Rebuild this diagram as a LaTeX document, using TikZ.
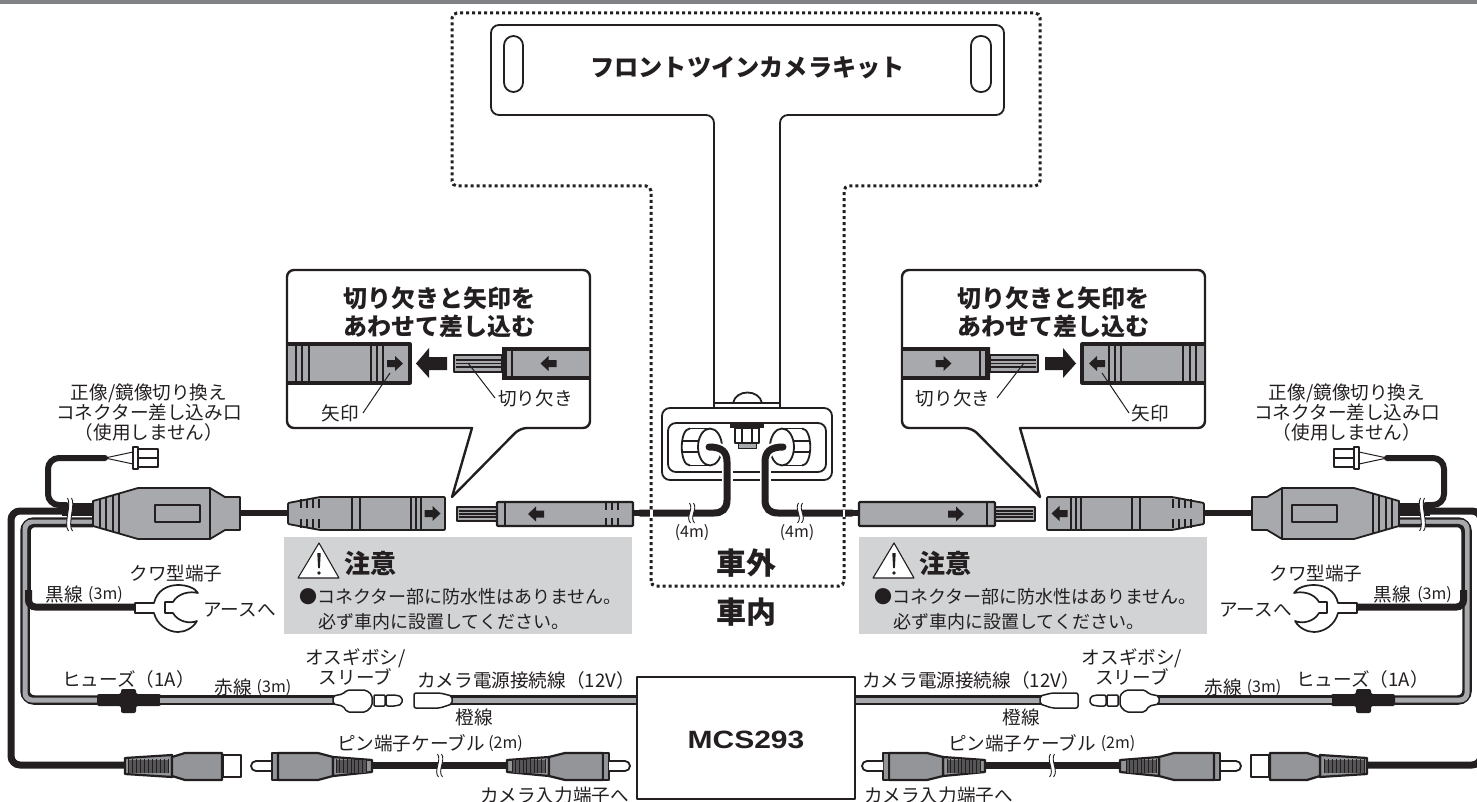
\documentclass[tikz,border=0pt]{standalone}
\usepackage{graphicx}
\usepackage{fontspec}
\setmainfont[BoldFont={Noto Sans CJK JP Black}]{Noto Sans CJK JP}
\newfontfamily\latinb{Liberation Sans}
\definecolor{plug}{HTML}{A7A9AC}
\definecolor{rcag}{HTML}{939598}
\definecolor{bar}{HTML}{808285}
\definecolor{note}{HTML}{D1D3D4}
\definecolor{ink}{HTML}{231F20}
\tikzset{
  ln/.style={draw=ink,line width=1.8pt,line join=round},
  body/.style={ln,fill=plug},
  rca/.style={draw=ink,line width=2.2pt,line join=round,fill=rcag},
  wht/.style={ln,fill=white},
  thk/.style={draw=ink,line width=7pt,rounded corners=9pt},
  lab/.style={inner sep=0pt,text=ink,align=center,font=\fontsize{18.6}{20}\selectfont},
  small/.style={inner sep=0pt,text=ink,font=\fontsize{16}{16}\selectfont},
  head/.style={inner sep=0pt,text=ink,align=center,font=\fontsize{24}{28}\selectfont\bfseries},
  dots/.style={draw=ink,line width=3pt,dash pattern=on 3pt off 3pt,rounded corners=5pt},
}
\newcommand\arr[2]{\fill[ink] (#1-8,#2-3.5) -- (#1,#2-3.5) -- (#1,#2-7.5) -- (#1+8,#2) -- (#1,#2+7.5) -- (#1,#2+3.5) -- (#1-8,#2+3.5) -- cycle;}
\newcommand\arrl[2]{\fill[ink] (#1+8,#2-3.5) -- (#1,#2-3.5) -- (#1,#2-7.5) -- (#1-8,#2) -- (#1,#2+7.5) -- (#1,#2+3.5) -- (#1+8,#2+3.5) -- cycle;}
\newcommand\wave[3]{%
  \fill[white] (#1-2.5,#2) .. controls (#1+2,#2+6) and (#1-7,#3-6) .. (#1-1.5,#3) -- (#1+2.5,#3) .. controls (#1-3,#3-6) and (#1+6,#2+6) .. (#1+1.5,#2) -- cycle;
  \draw[ink,line width=.9pt] (#1-2.5,#2) .. controls (#1+2,#2+6) and (#1-7,#3-6) .. (#1-1.5,#3);
  \draw[ink,line width=.9pt] (#1+1.5,#2) .. controls (#1+6,#2+6) and (#1-3,#3-6) .. (#1+2.5,#3);}
\newcommand\graywire[1]{\draw[draw=ink,line width=9.5pt,rounded corners=9pt] #1; \draw[draw=plug,line width=5pt,rounded corners=7pt] #1;}
\newcommand\vents[3]{%
  \fill[ink!55!rcag] (#1,759.5) rectangle (#2,772.5);
  \foreach \vx in {0,...,#3}{\draw[ink,line width=1pt] ({#1+(#2-#1)*\vx/#3},759) -- ({#1+(#2-#1)*\vx/#3},773);}}
\newcommand\halfside{%
  % wires in the bundle
  \draw[thk] (93,511) -- (11,511) -- (11,765) -- (126,765);
  \graywire{(93,522) -- (25,522) -- (25,700) -- (97,700)}
  \draw[ink,line width=3.5pt,rounded corners=6pt] (93,525.5) -- (29,525.5) -- (29,600);
  \draw[draw=ink,line width=7pt,rounded corners=7pt] (28.5,590) -- (28.5,607) -- (136,607);
  \draw[ink,line width=6pt,rounded corners=11pt,line cap=round] (66,505) -- (48,505) -- (48,458) -- (105,458);
  \fill[ink] (62,503) rectangle (93,516);
  \wave{70}{498}{531}
  % switch connector
  \draw[ink,line width=1pt] (105,458) -- (133,452) (105,458) -- (133,464);
  \path[wht] (133,447) -- (138,447) -- (138,449) -- (158,449) -- (158,467) -- (138,467) -- (138,469) -- (133,469) -- cycle;
  \draw[ln] (138,458) -- (158,458) (138,449) -- (138,467);
  % breakout body
  \path[body] (93,501) -- (138,488) -- (210,488) -- (225,497) -- (240,497) -- (240,530) -- (225,530) -- (210,539) -- (138,539) -- (93,526) -- cycle;
  \draw[ink,line width=2.2pt] (100,499) -- (100,528) (106,497) -- (106,530) (113,495) -- (113,532) (119,493) -- (119,534);
  \path[ln,fill=plug] (155,505) rectangle (200,522);
  \draw[ln] (210,488) -- (210,539);
  % cable to plug
  \draw[ink,line width=6pt] (240,513) -- (290,513);
  % plug with arrow
  \path[body,rounded corners=1pt] (288,503) -- (320,497) -- (445,497) -- (445,530) -- (320,530) -- (288,524) -- cycle;
  \foreach \vx in {301,307,313,319}{\draw[ink,line width=2.4pt] (\vx,499) -- (\vx,508) (\vx,519) -- (\vx,528);}
  \draw[ink,line width=2.2pt] (352,497) -- (352,530) (360,497) -- (360,530) (411,497) -- (411,530) (416,497) -- (416,530) (421,497) -- (421,530);
  \arr{432.5}{513.5}
  % male plug
  \path[ln,line width=2.2pt,fill=plug] (457,507) rectangle (497,521);
  \draw[ink,line width=1.3pt] (459,511) -- (497,511) (459,514) -- (497,514) (459,517) -- (497,517);
  \path[body,line width=2.2pt,rounded corners=1pt] (497,502) -- (633,502) -- (633,526) -- (497,526) -- cycle;
  \draw[ink,line width=2pt] (505,502) -- (505,526);
  \arrl{536}{514}
  % callout
  \path[ln,line width=2.4pt,fill=white,rounded corners=7pt] (287,270) -- (590,270) -- (590,428) -- (520,428) [sharp corners] -- (452,497) -- (472,428) [rounded corners=7pt] -- (287,428) -- cycle;
  % callout socket
  \begin{scope}
    \clip (288.2,340) rectangle (420,390);
    \path[ln,line width=3.2pt,fill=plug] (280,344) rectangle (410,383);
    \draw[ink,line width=2.4pt] (296,344) -- (296,383) (302,344) -- (302,383) (309,344) -- (309,383) (371,344) -- (371,383) (377,344) -- (377,383) (383,344) -- (383,383);
  \end{scope}
  \arr{395}{363.5}
  % big arrow
  \fill[ink] (447,357) -- (429,357) -- (429,348) -- (416,363.5) -- (429,378) -- (429,370) -- (447,370) -- cycle;
  % callout pin
  \path[ln,line width=2.4pt,fill=plug] (454,355) rectangle (502,372);
  \draw[ink,line width=1.3pt] (456,360) -- (502,360) (456,363.5) -- (502,363.5) (456,367) -- (502,367);
  \begin{scope}
    \clip (502,340) rectangle (588.8,390);
    \path[ln,line width=3.2pt,fill=plug] (502,349) rectangle (600,378);
    \fill[ink] (502,348) rectangle (507,379);
    \draw[ink,line width=2.2pt] (512,349) -- (512,378);
  \end{scope}
  \arrl{548.5}{363.5}
  % leaders
  \draw[ink,line width=1pt] (390,373) -- (363,413);
  \draw[ink,line width=1pt] (468,363) -- (495,398);
  % cable into camera
  \draw[ink,line width=6.5pt] (633,513) -- (700,513);
  % terminal
  \path[ln,line width=1.7pt,fill=white] (135,603) -- (154,603) .. controls (157,590) and (168,585) .. (178,585) .. controls (187,585) and (195,588) .. (198,593) .. controls (190,591) and (178,593) .. (173,602) -- (165,602) -- (165,613) -- (173,613) .. controls (178,622) and (190,624) .. (197,621) .. controls (193,628) and (185,632) .. (178,632) .. controls (168,632) and (157,625) .. (154,613) -- (135,613) -- cycle;
  % fuse
  \fill[ink,rounded corners=2pt] (97,694) -- (121,694) -- (121,689) -- (136,689) -- (136,694) -- (161,694) -- (161,706) -- (136,706) -- (136,713) -- (121,713) -- (121,706) -- (97,706) -- cycle;
  % gray wire fuse to sleeve
  \graywire{(160,700) -- (336,700)}
  \path[wht,line width=1.5pt,rounded corners=2pt] (333,696) -- (343,694) -- (347,690) -- (366,690) -- (372,695) -- (372,706) -- (366,712) -- (347,712) -- (343,706) -- (333,704) -- cycle;
  \path[wht,line width=1.5pt,rounded corners=1pt] (374,695) rectangle (385,706);
  \path[wht,line width=1.5pt,rounded corners=2pt] (386,695) -- (396,695) -- (402,697) -- (402,704) -- (396,706) -- (386,706) -- cycle;
  % female
  \graywire{(450,700) -- (637,700)}
  \path[wht,line width=1.5pt,rounded corners=2pt] (414,693) -- (440,693) -- (452,696) -- (452,704) -- (440,708) -- (414,708) -- cycle;
  % RCA female
  \path[wht,line width=2.2pt] (223,755) rectangle (241,777);
  \path[rca] (125,758) -- (172,755) -- (172,777) -- (125,774) -- cycle;
  \vents{128}{168}{10}
  \path[rca] (172,757) -- (185,753) -- (222,753) -- (222,780) -- (185,780) -- (172,776) -- cycle;
  % RCA male 1
  \path[wht,line width=1.8pt,rounded corners=5pt] (272,761) -- (251,761) -- (251,771) -- (272,771);
  \path[rca] (272,753) -- (278,753) -- (278,780) -- (272,780) -- cycle;
  \path[rca] (278,753) -- (318,753) -- (333,757) -- (333,776) -- (318,780) -- (278,780) -- cycle;
  \draw[ink,line width=7pt] (372,765.5) -- (508,765.5);
  \path[rca] (333,757) -- (372,760) -- (372,772) -- (333,776) -- cycle;
  \vents{336}{366}{8}
  \wave{440}{754}{777}
  % RCA male 2
  \path[rca] (507,760) -- (549,757) -- (549,776) -- (507,772) -- cycle;
  \vents{512}{545}{9}
  \path[rca] (549,757) -- (565,753) -- (603,753) -- (603,780) -- (565,780) -- (549,776) -- cycle;
  \path[rca] (603,753) -- (609,753) -- (609,780) -- (603,780) -- cycle;
  \path[wht,line width=1.8pt,rounded corners=5pt] (609,761) -- (630,761) -- (630,771) -- (609,771);
  % cable wave
  \wave{692}{503}{523}
}
\begin{document}
\begin{tikzpicture}[x=1pt,y=-1pt]
\useasboundingbox (0,0) rectangle (1477,802);
\clip (0,0) rectangle (1477,802);
\fill[white] (0,0) rectangle (1477,802);
\fill[bar] (0,0) rectangle (1477,4);
% note panels
\fill[note] (284,537) rectangle (632,634);
\fill[note] (859,537) rectangle (1207,634);
% outdoor zone
\draw[dots] (651,586) -- (651,186) -- (452,186) -- (452,13) -- (1040,13) -- (1040,186) -- (844,186) -- (844,586) -- cycle;
% camera plate
\path[ln,rounded corners=8pt,fill=white] (714,300) -- (714,115) -- (491,115) -- (491,25) -- (1004,25) -- (1004,115) -- (780,115) -- (780,300);
\draw[ln] (714,135) -- (714,407) (780,135) -- (780,407);
\draw[ln,rounded corners=9.5pt] (504,36) rectangle (523,92);
\draw[ln,rounded corners=9.5pt] (971,36) rectangle (991,92);
% camera housing
\draw[ln] (733,403) .. controls (736,389) and (759,389) .. (762,403);
\draw[ln] (714,403) -- (780,403);
\path[ln,fill=white,rounded corners=8pt] (662,408) rectangle (832,480);
\path[ln,fill=white,rounded corners=8pt] (668,423) rectangle (826,472);
\fill[ink] (730,423) rectangle (764,428);
\path[ln,fill=white] (735,428) rectangle (759,443);
\draw[ln,line width=1.1pt] (742,428) -- (742,443) (752,428) -- (752,443);
\path[ln,line width=1pt,fill=plug] (738,443) rectangle (756,448);
% lenses
\foreach \m/\s in {0/1,1492/-1}{
 \begin{scope}[shift={(\m,0)},xscale=\s]
  \draw[ln] (690,428.5) .. controls (679,428.5) and (679,465.5) .. (690,465.5);
  \draw[ln] (690,428.5) -- (710,428.5) (690,465.5) -- (710,465.5);
  \draw[ln,line width=1.3pt] (683,441) -- (699,441) (683,452) -- (699,452);
  \path[ln,fill=white] (710,447) ellipse (12 and 18.5);
  \draw[draw=white,line width=11pt] (727,462) -- (727,482);
  \draw[draw=white,line width=11pt,line cap=round] (709,447) .. controls (722,447) and (727,452) .. (727,462);
  \draw[ink,line width=7pt,line cap=round] (709,447) .. controls (722,447) and (727,452) .. (727,462) -- (727,500) .. controls (727,509) and (722,513) .. (714,513) -- (640,513);
 \end{scope}}
% both sides
\halfside
\begin{scope}[shift={(1492,0)},xscale=-1]
\halfside
\end{scope}
% grip ribs on the left inner plug only
\foreach \vx in {606,612,618}{\draw[ink,line width=2.4pt] (\vx,503) -- (\vx,510) (\vx,518) -- (\vx,525);}
% dotted zone crossing the cables
\fill[white] (649.5,509.5) rectangle (652.5,516.5);
\fill[white] (842.5,509.5) rectangle (845,516.5);
% MCS box
\path[ln,line width=2.6pt,fill=white] (637,677) rectangle (855,799);
\node[inner sep=0pt,text=ink,font=\latinb\fontsize{25}{25}\selectfont\bfseries] (unit) at (746,740) {\scalebox{1.2}[1]{MCS293}};
% triangles
\foreach \dx in {0,575}{
 \begin{scope}[shift={(\dx,0)}]
  \path[ln,line width=1.1pt,fill=white] (319,543) -- (339,578) -- (298,578) -- cycle;
  \fill[ink] (317.3,553) -- (320.7,553) -- (319.9,568) -- (318.1,568) -- cycle;
  \fill[ink] (319,573) circle (1.8);
 \end{scope}}
% texts
\node[font=\fontsize{24.2}{28}\selectfont\bfseries,inner sep=0pt,text=ink] (kit) at (747.5,68) {フロントツインカメラキット};
\node[head] (ttlL) at (439.5,312) {切り欠きと矢印を\\あわせて差し込む};
\node[head] (ttlR) at (1053.5,312) {切り欠きと矢印を\\あわせて差し込む};
\node[lab] (cutL) at (535.5,398) {切り欠き};
\node[lab] (arrL) at (340.5,413) {矢印};
\node[lab] (cutR) at (953,398) {切り欠き};
\node[lab] (arrR) at (1150.5,413) {矢印};
\node[lab] (swL) at (149,413) {正像/鏡像切り換え\\コネクター差し込み口\\（使用しません）};
\node[lab] (swR) at (1347,413) {正像/鏡像切り換え\\コネクター差し込み口\\（使用しません）};
\node[lab] (hoeL) at (176,573) {クワ型端子};
\node[lab] (hoeR) at (1316,573) {クワ型端子};
\node[lab] (blkL) at (64.5,594) {黒線};
\node[small] (blkLm) at (105.5,594.5) {(3m)};
\node[lab] (blkR) at (1392.5,594) {黒線};
\node[small] (blkRm) at (1434.5,594.5) {(3m)};
\node[lab] (gndL) at (239.5,610) {アースへ};
\node[lab] (gndR) at (1255.5,610) {アースへ};
\node[lab] (fuseL) at (128.5,679) {ヒューズ（1A）};
\node[lab] (fuseR) at (1362.5,679) {ヒューズ（1A）};
\node[lab] (redL) at (233.5,687) {赤線};
\node[small] (redLm) at (274,687.5) {(3m)};
\node[lab] (redR) at (1223,687) {赤線};
\node[small] (redRm) at (1264,687.5) {(3m)};
\node[lab] (osL) at (355.5,667) {オスギボシ/\\スリーブ};
\node[lab] (osR) at (1132,667) {オスギボシ/\\スリーブ};
\node[lab] (pwL) at (526,680) {カメラ電源接続線（12V）};
\node[lab] (pwR) at (971,680) {カメラ電源接続線（12V）};
\node[lab] (orL) at (474,717) {橙線};
\node[lab] (orR) at (1021,717) {橙線};
\node[lab] (pinL) at (411,743) {ピン端子ケーブル};
\node[small] (pinLm) at (505.5,743.5) {(2m)};
\node[lab] (pinR) at (1022,743) {ピン端子ケーブル};
\node[small] (pinRm) at (1118,743.5) {(2m)};
\node[lab] (inL) at (554.5,795) {カメラ入力端子へ};
\node[lab] (inR) at (938.5,795) {カメラ入力端子へ};
\node[small] (m4L) at (692,533) {(4m)};
\node[small] (m4R) at (797,533) {(4m)};
\node[font=\fontsize{30}{30}\selectfont\bfseries,inner sep=0pt,text=ink] (out) at (746,563) {車外};
\node[font=\fontsize{30}{30}\selectfont\bfseries,inner sep=0pt,text=ink] (inn) at (746,612) {車内};
\foreach \dx/\n in {0/a,575/b}{
 \node[font=\fontsize{26}{26}\selectfont\bfseries,inner sep=0pt,text=ink] (w\n) at (370+\dx,563) {注意};
 \node[lab,align=left,anchor=west,font=\fontsize{18}{25}\selectfont] (t\n) at (299+\dx,609.5) {●コネクター部に防水性はありません。\\\hspace*{19pt}必ず車内に設置してください。};
}
\end{tikzpicture}
\end{document}
